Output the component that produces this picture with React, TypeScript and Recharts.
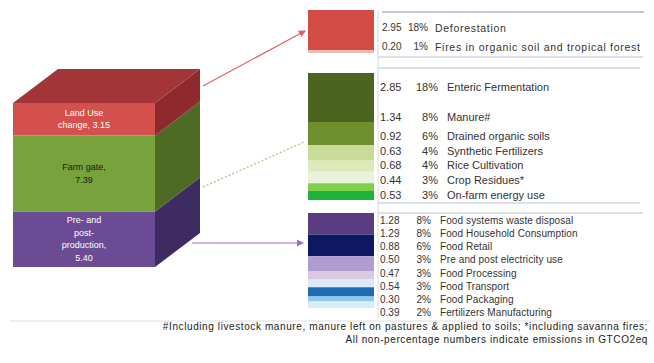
import React from 'react';
import { BarChart, Bar, XAxis, YAxis, LabelList } from 'recharts';

// cube (bottom to top)
const stageKeys = ['pre', 'farm', 'luc'];
const stageValues = [5.4, 7.39, 3.15];
const stageLabels = [
  ['Pre- and', 'post-', 'production,', '5.40'],
  ['Farm gate,', '7.39'],
  ['Land Use', 'change, 3.15'],
];

const lucItems = ['Deforestation', 'Fires in organic soil and tropical forest'];
const lucValues = [2.95, 0.2];
const lucPct = ['18%', '1%'];

const farmItems = [
  'Enteric Fermentation',
  'Manure#',
  'Drained organic soils',
  'Synthetic Fertilizers',
  'Rice Cultivation',
  'Crop Residues*',
  'On-farm energy use',
];
const farmValues = [2.85, 1.34, 0.92, 0.63, 0.68, 0.44, 0.53];
const farmPct = ['18%', '8%', '6%', '4%', '4%', '3%', '3%'];

const prePostItems = [
  'Food systems waste disposal',
  'Food Household Consumption',
  'Food Retail',
  'Pre and post electricity use',
  'Food Processing',
  'Food Transport',
  'Food Packaging',
  'Fertilizers Manufacturing',
];
const prePostValues = [1.28, 1.29, 0.88, 0.5, 0.47, 0.54, 0.3, 0.39];
const prePostPct = ['8%', '8%', '6%', '3%', '3%', '3%', '2%', '2%'];

const FONT = '"Liberation Sans", Arial, sans-serif';
const DX = 45;
const DY = 34;

const cubeColors = [
  { front: '#6a4b94', side: '#3e2b62', text: '#ffffff' },
  { front: '#78a23c', side: '#4d6b25', text: '#1a1a1a' },
  { front: '#d4504c', side: '#8e2a2e', top: '#a33438', text: '#ffffff' },
];

const lucColors = ['#d24b45', '#f0b8b4'];
const farmColors = ['#4b6420', '#6e8f2e', '#c9dc97', '#dde9bd', '#ebf2dc', '#7fd04c', '#1fb33b'];
const prePostColors = ['#5b3c80', '#0d1a63', '#b19cd0', '#dcc8e2', '#dde9f7', '#1f6bb5', '#8fc9e8', '#d8eef5'];

const cubeShape = (c: any) => (props: any) => {
  const { x, y, width, height } = props;
  const r = x + width;
  return (
    <g>
      <rect x={x} y={y} width={width} height={height} fill={c.front} />
      <polygon
        points={`${r},${y} ${r + DX},${y - DY} ${r + DX},${y + height - DY} ${r},${y + height}`}
        fill={c.side}
      />
      {c.top && (
        <polygon points={`${x},${y} ${x + DX},${y - DY} ${r + DX},${y - DY} ${r},${y}`} fill={c.top} />
      )}
    </g>
  );
};

const cubeLabel = (lines: string[], color: string) => (props: any) => {
  const { x, y, width, height } = props;
  const cx = x + width / 2;
  const lh = 12.5;
  const y0 = y + height / 2 - ((lines.length - 1) * lh) / 2;
  return (
    <text x={cx} y={y0} textAnchor="middle" dominantBaseline="central" fill={color} fontSize={9} fontFamily={FONT}>
      {lines.map((l, i) => (
        <tspan key={i} x={cx} dy={i === 0 ? 0 : lh}>
          {l}
        </tspan>
      ))}
    </text>
  );
};

function StackColumn({ keyPrefix, values, colors, top, height }: any) {
  const row: any = { name: 'g' };
  values.forEach((v: number, i: number) => (row[`${keyPrefix}${i}`] = v));
  const sum = values.reduce((a: number, b: number) => a + b, 0);
  return (
    <div style={{ position: 'absolute', left: 308, top, width: 66, height }}>
      <BarChart width={66} height={height} data={[row]} margin={{ top: 0, right: 0, bottom: 0, left: 0 }} barCategoryGap={0}>
        <XAxis dataKey="name" hide />
        <YAxis hide reversed domain={[0, sum]} />
        {values.map((_: number, i: number) => (
          <Bar key={i} dataKey={`${keyPrefix}${i}`} stackId="s" fill={colors[i]} isAnimationActive={false} />
        ))}
      </BarChart>
    </div>
  );
}

// xs: [value left, pct right edge, label left]
function Rows({ items, values, pct, ys, xs, size, labelSize, spacing }: any) {
  const st: React.CSSProperties = { ...rowStyle, fontSize: size };
  const lt: React.CSSProperties = { ...rowStyle, fontSize: labelSize, letterSpacing: spacing };
  return (
    <>
      {items.map((it: string, i: number) => (
        <React.Fragment key={it}>
          <div style={{ ...st, top: ys[i] - 6, left: xs[0] }}>{values[i].toFixed(2)}</div>
          <div style={{ ...st, top: ys[i] - 6, right: 654 - xs[1], textAlign: 'right' }}>{pct[i]}</div>
          <div style={{ ...lt, top: ys[i] - 6, left: xs[2] }}>{it}</div>
        </React.Fragment>
      ))}
    </>
  );
}

const rowStyle: React.CSSProperties = {
  position: 'absolute',
  fontFamily: FONT,
  lineHeight: '12px',
  color: '#333',
  whiteSpace: 'nowrap',
};

export default function App() {
  const cubeRow: any = { name: 'total' };
  stageKeys.forEach((k, i) => (cubeRow[k] = stageValues[i]));
  const cubeSum = stageValues.reduce((a, b) => a + b, 0);

  return (
    <div style={{ position: 'absolute', left: 0, top: 0, width: 654, height: 363, background: '#fff', overflow: 'hidden' }}>
      <div style={{ position: 'absolute', left: 0, top: 0 }}>
        <BarChart width={220} height={290} data={[cubeRow]} margin={{ top: 103, right: 65, bottom: 23, left: 13 }} barCategoryGap={0}>
          <XAxis dataKey="name" hide />
          <YAxis hide domain={[0, cubeSum]} />
          {stageKeys.map((k, i) => (
            <Bar key={k} dataKey={k} stackId="c" isAnimationActive={false} shape={cubeShape(cubeColors[i])}>
              <LabelList dataKey={k} content={cubeLabel(stageLabels[i], cubeColors[i].text)} />
            </Bar>
          ))}
        </BarChart>
      </div>

      <StackColumn keyPrefix="luc" values={lucValues} colors={lucColors} top={10} height={43} />
      <StackColumn keyPrefix="farm" values={farmValues} colors={farmColors} top={73} height={127} />
      <StackColumn keyPrefix="pp" values={prePostValues} colors={prePostColors} top={213} height={95} />

      <svg width={654} height={363} style={{ position: 'absolute', left: 0, top: 0, pointerEvents: 'none' }}>
        <defs>
          <marker id="arR" markerWidth="6" markerHeight="6" refX="5" refY="3" orient="auto">
            <path d="M0,0 L6,3 L0,6 z" fill="#e06060" />
          </marker>
          <marker id="arP" markerWidth="6" markerHeight="6" refX="5" refY="3" orient="auto">
            <path d="M0,0 L6,3 L0,6 z" fill="#9a6fd0" />
          </marker>
        </defs>
        <line x1={203} y1={86} x2={305} y2={31} stroke="#e06060" strokeWidth={1.2} markerEnd="url(#arR)" />
        <line x1={203} y1={187} x2={304} y2={142} stroke="#b5c98a" strokeWidth={1.4} strokeDasharray="2 2" />
        <line x1={192} y1={243} x2={303} y2={243} stroke="#9a6fd0" strokeWidth={1.2} markerEnd="url(#arP)" />
        <line x1={378} y1={10} x2={378} y2={318} stroke="#d5dae3" strokeWidth={1} />
        <line x1={382} y1={12} x2={644} y2={12} stroke="#aab6cc" strokeWidth={1.5} />
        <line x1={378} y1={57} x2={643} y2={57} stroke="#b8c2d4" strokeWidth={1} />
        <line x1={378} y1={68} x2={640} y2={68} stroke="#b8c2d4" strokeWidth={1} />
        <line x1={378} y1={203} x2={640} y2={203} stroke="#b8c2d4" strokeWidth={1} />
        <line x1={378} y1={213} x2={643} y2={213} stroke="#b8c2d4" strokeWidth={1} />
        <line x1={10} y1={321} x2={650} y2={321} stroke="#dcdcdc" strokeWidth={1} />
      </svg>

      <Rows
        items={lucItems}
        values={lucValues}
        pct={lucPct}
        ys={[28, 47]}
        xs={[382, 428, 435]}
        size={10}
        labelSize={10.5}
        spacing={0.7}
      />
      <Rows
        items={farmItems}
        values={farmValues}
        pct={farmPct}
        ys={[87, 117, 136, 151, 165, 180, 195]}
        xs={[380, 438, 447]}
        size={11}
        labelSize={11}
        spacing={0}
      />
      <Rows
        items={prePostItems}
        values={prePostValues}
        pct={prePostPct}
        ys={[221, 234, 247, 260, 274, 287, 300, 313]}
        xs={[380, 431, 440]}
        size={10}
        labelSize={10}
        spacing={0.1}
      />

      <div
        style={{
          position: 'absolute',
          right: 6,
          top: 321,
          textAlign: 'right',
          fontFamily: FONT,
          fontSize: 10,
          letterSpacing: 0.6,
          lineHeight: '12.5px',
          color: '#222',
          whiteSpace: 'nowrap',
        }}
      >
        #Including livestock manure, manure left on pastures &amp; applied to soils; *including savanna fires;
        <br />
        All non-percentage numbers indicate emissions in GTCO2eq
      </div>
    </div>
  );
}
